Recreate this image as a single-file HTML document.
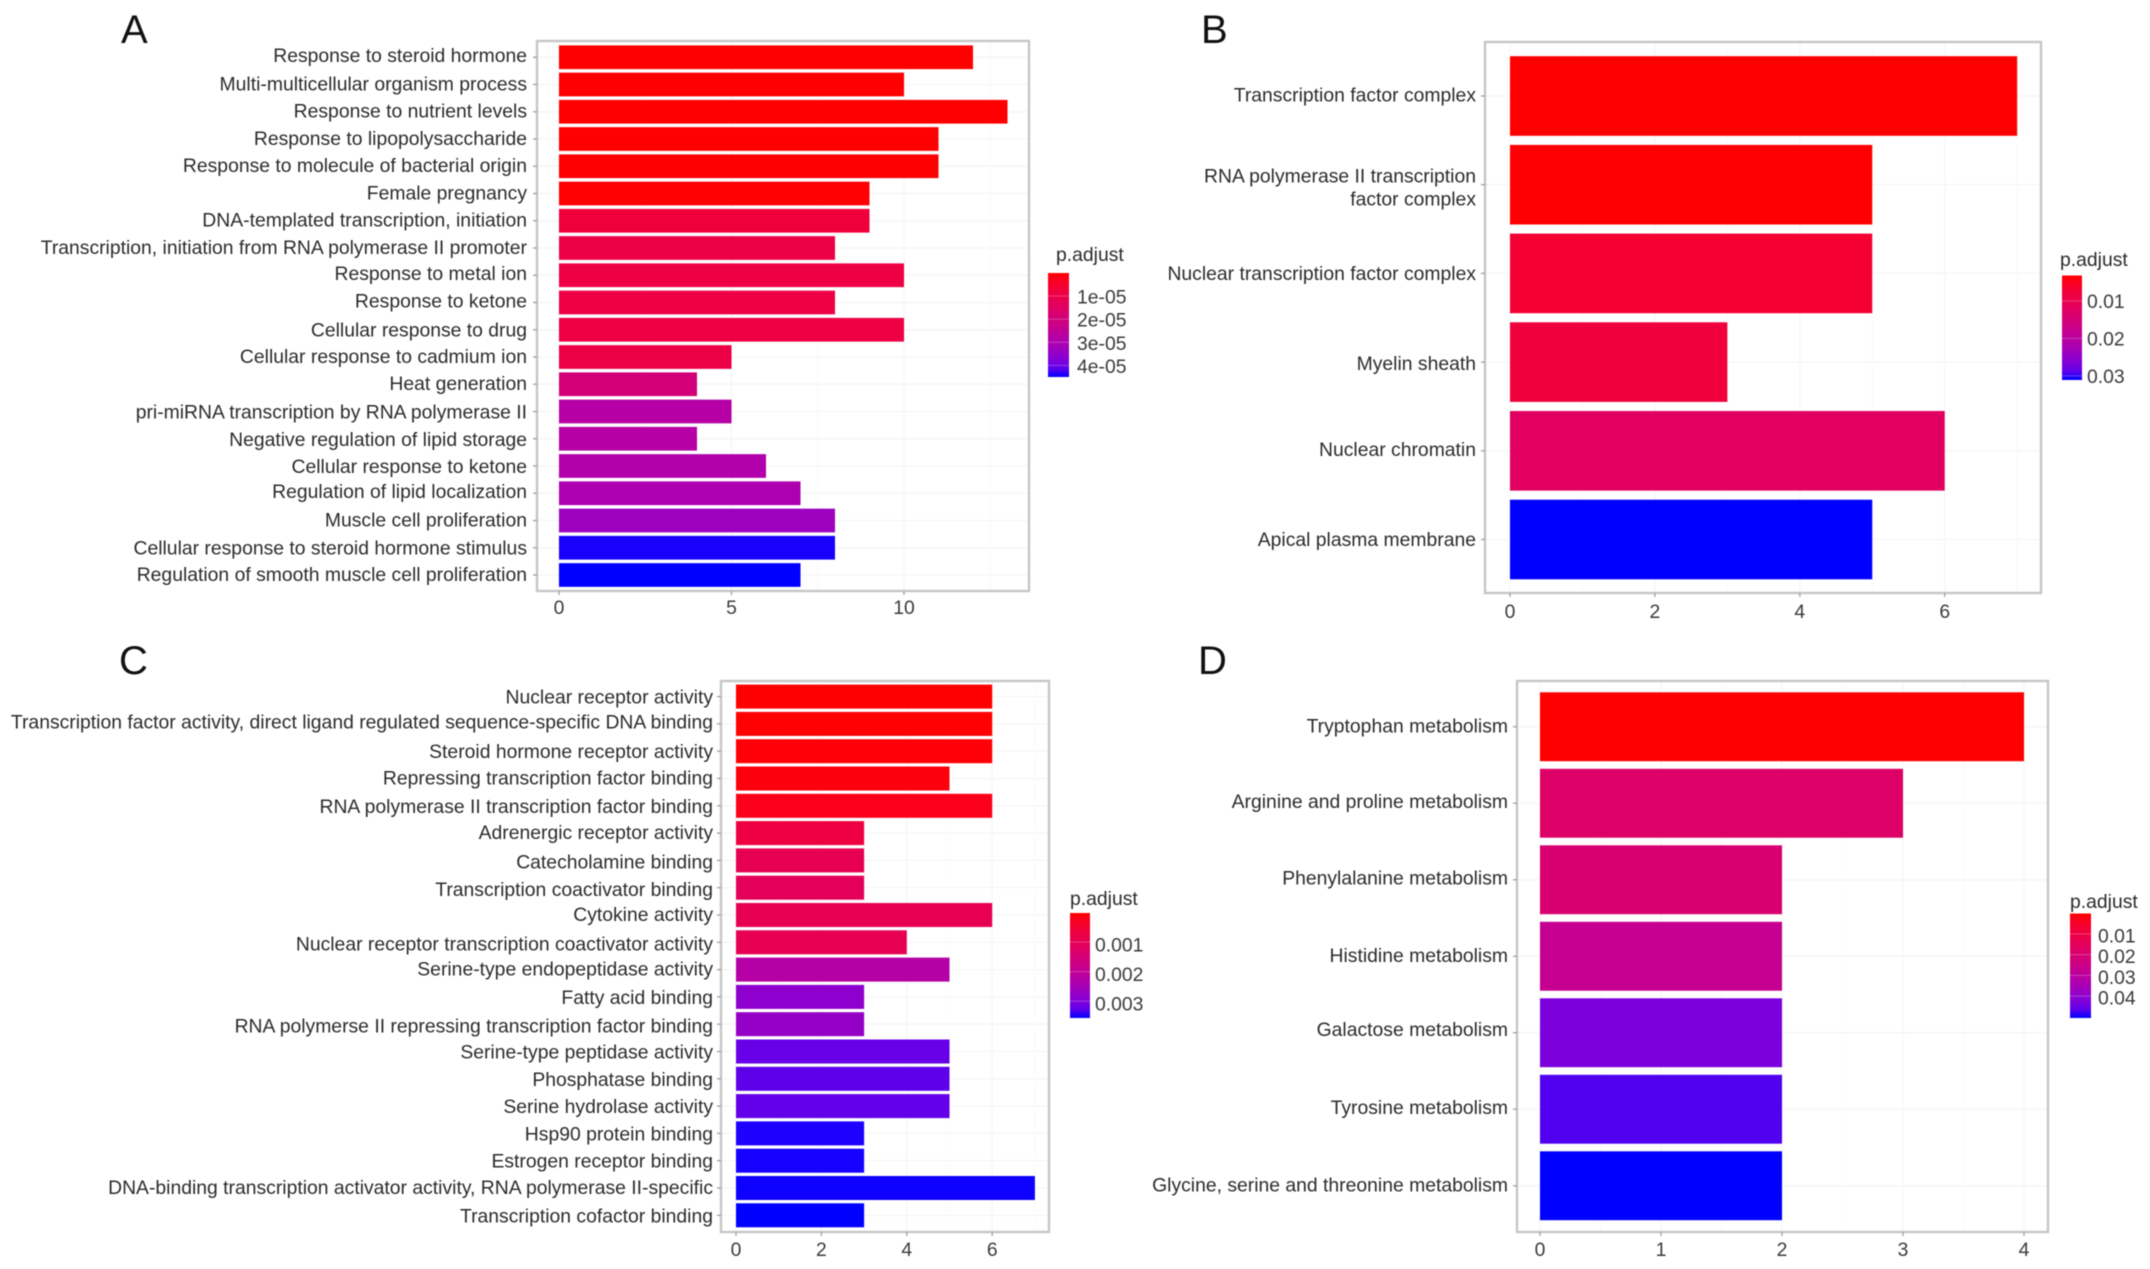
<!DOCTYPE html>
<html lang="en">
<head>
<meta charset="utf-8">
<title>Enrichment bar charts</title>
<style>
html,body{margin:0;padding:0;background:#fff;width:2150px;height:1269px;overflow:hidden}
svg{display:block;filter:blur(0.55px)}
text{font-family:"Liberation Sans",Arial,sans-serif}
</style>
</head>
<body>
<svg id="figure" width="2150" height="1269" viewBox="0 0 2150 1269" xmlns="http://www.w3.org/2000/svg">
<defs id="gradients"></defs>
</svg>
<script>
var aTerms = ["Response to steroid hormone","Multi-multicellular organism process","Response to nutrient levels","Response to lipopolysaccharide","Response to molecule of bacterial origin","Female pregnancy","DNA-templated transcription, initiation","Transcription, initiation from RNA polymerase II promoter","Response to metal ion","Response to ketone","Cellular response to drug","Cellular response to cadmium ion","Heat generation","pri-miRNA transcription by RNA polymerase II","Negative regulation of lipid storage","Cellular response to ketone","Regulation of lipid localization","Muscle cell proliferation","Cellular response to steroid hormone stimulus","Regulation of smooth muscle cell proliferation"];
var aCounts = [12,10,13,11,11,9,9,8,10,8,10,5,4,5,4,6,7,8,8,7];
var aPadjust = [0.00000005,0.0000001,0.0000001,0.00000015,0.0000002,0.0000003,0.0000075,0.0000095,0.0000090,0.0000090,0.0000090,0.0000095,0.0000195,0.0000280,0.0000280,0.0000290,0.0000300,0.0000330,0.0000447,0.0000450];
var aTicks = [0,5,10];
var aLegendTicks = [0.00001,0.00002,0.00003,0.00004];
var aLegendLabels = ["1e-05","2e-05","3e-05","4e-05"];

var bTerms = [["Transcription factor complex"],["RNA polymerase II transcription","factor complex"],["Nuclear transcription factor complex"],["Myelin sheath"],["Nuclear chromatin"],["Apical plasma membrane"]];
var bCounts = [7,5,5,3,6,5];
var bPadjust = [0.0032,0.0034,0.0068,0.0080,0.0120,0.0311];
var bTicks = [0,2,4,6];
var bLegendTicks = [0.01,0.02,0.03];
var bLegendLabels = ["0.01","0.02","0.03"];

var cTerms = ["Nuclear receptor activity","Transcription factor activity, direct ligand regulated sequence-specific DNA binding","Steroid hormone receptor activity","Repressing transcription factor binding","RNA polymerase II transcription factor binding","Adrenergic receptor activity","Catecholamine binding","Transcription coactivator binding","Cytokine activity","Nuclear receptor transcription coactivator activity","Serine-type endopeptidase activity","Fatty acid binding","RNA polymerse II repressing transcription factor binding","Serine-type peptidase activity","Phosphatase binding","Serine hydrolase activity","Hsp90 protein binding","Estrogen receptor binding","DNA-binding transcription activator activity, RNA polymerase II-specific","Transcription cofactor binding"];
var cCounts = [6,6,6,5,6,3,3,3,6,4,5,3,3,5,5,5,3,3,7,3];
var cPadjust = [0.00002,0.00004,0.00006,0.00010,0.00020,0.00070,0.00095,0.00105,0.00095,0.00095,0.00225,0.00285,0.00275,0.00322,0.00328,0.00325,0.00354,0.00355,0.00356,0.00357];
var cTicks = [0,2,4,6];
var cLegendTicks = [0.001,0.002,0.003];
var cLegendLabels = ["0.001","0.002","0.003"];

var dTerms = ["Tryptophan metabolism","Arginine and proline metabolism","Phenylalanine metabolism","Histidine metabolism","Galactose metabolism","Tyrosine metabolism","Glycine, serine and threonine metabolism"];
var dCounts = [4,3,2,2,2,2,2];
var dPadjust = [0.0002,0.0180,0.0200,0.0270,0.0430,0.0475,0.0505];
var dTicks = [0,1,2,3,4];
var dLegendTicks = [0.01,0.02,0.03,0.04];
var dLegendLabels = ["0.01","0.02","0.03","0.04"];

var svgNS = "http://www.w3.org/2000/svg";
var figure = document.getElementById("figure");
var defs = document.getElementById("gradients");

function make(tag, attrs, parent) {
  var el = document.createElementNS(svgNS, tag);
  for (var k in attrs) el.setAttribute(k, attrs[k]);
  (parent || figure).appendChild(el);
  return el;
}
function srgbToLab(c) {
  var l = c.map(function (v) { v /= 255; return v > 0.04045 ? Math.pow((v + 0.055) / 1.055, 2.4) : v / 12.92; });
  var x = (0.4124564 * l[0] + 0.3575761 * l[1] + 0.1804375 * l[2]) / 0.95047;
  var y = 0.2126729 * l[0] + 0.7151522 * l[1] + 0.0721750 * l[2];
  var z = (0.0193339 * l[0] + 0.1191920 * l[1] + 0.9503041 * l[2]) / 1.08883;
  var f = function (t) { return t > 0.008856 ? Math.cbrt(t) : 7.787 * t + 16 / 116; };
  return [116 * f(y) - 16, 500 * (f(x) - f(y)), 200 * (f(y) - f(z))];
}
function labToCss(lab) {
  var fy = (lab[0] + 16) / 116, fx = fy + lab[1] / 500, fz = fy - lab[2] / 200;
  var g = function (t) { return t * t * t > 0.008856 ? t * t * t : (t - 16 / 116) / 7.787; };
  var x = g(fx) * 0.95047, y = g(fy), z = g(fz) * 1.08883;
  var rgb = [3.2404542 * x - 1.5371385 * y - 0.4985314 * z, -0.9692660 * x + 1.8760108 * y + 0.0415560 * z, 0.0556434 * x - 0.2040259 * y + 1.0572252 * z];
  var out = rgb.map(function (v) {
    v = Math.max(0, Math.min(1, v));
    v = v > 0.0031308 ? 1.055 * Math.pow(v, 1 / 2.4) - 0.055 : 12.92 * v;
    return Math.round(v * 255);
  });
  return "rgb(" + out.join(",") + ")";
}
var labRed = srgbToLab([255, 0, 0]);
var labBlue = srgbToLab([0, 0, 255]);
function gradientColor(t) {
  t = Math.max(0, Math.min(1, t));
  return labToCss([0, 1, 2].map(function (i) { return labRed[i] + (labBlue[i] - labRed[i]) * t; }));
}

function drawPanel(key, layout, terms, counts, padjust, ticks, legendTicks, legendLabels) {
  var group = make("g", {});
  
  

  var xScale = function (v) { return layout.x0 + (v - layout.xMin) * layout.unit; };
  var bandCenter = function (i) { return layout.barTop + layout.barH / 2 + i * layout.pitch; };
  var maxP = Math.max.apply(null, padjust);
  var minP = Math.min.apply(null, padjust);
  var fillScale = function (p) { return (p - minP) / (maxP - minP); };
  var legendScale = function (p) { return layout.legY + fillScale(p) * layout.legH; };

  var letter = make("text", { x: layout.letterX, y: layout.letterY, "font-size": 40, fill: "#111" }, group);
  letter.textContent = layout.letter;
  
  

  var bg = make("rect", { x: layout.px, y: layout.py, width: layout.pw, height: layout.ph, fill: "#fff" }, group);
  
  

  terms.forEach(function (term, i) {
    var h = make("line", { x1: layout.px, x2: layout.px + layout.pw, y1: bandCenter(i), y2: bandCenter(i), stroke: "#f5f5f5", "stroke-width": 1.2 }, group);
    
    
  });
  var step = ticks[1] - ticks[0];
  var gridValue = ticks[0];
  var limit = (layout.px + layout.pw - layout.x0) / layout.unit;
  while (gridValue <= limit) {
    var major = make("line", { x1: xScale(gridValue), x2: xScale(gridValue), y1: layout.py, y2: layout.py + layout.ph, stroke: "#f5f5f5", "stroke-width": 1.2 }, group);
    
    
    var mv = gridValue + step / 2;
    if (mv <= limit) {
      var minor = make("line", { x1: xScale(mv), x2: xScale(mv), y1: layout.py, y2: layout.py + layout.ph, stroke: "#fafafa", "stroke-width": 1 }, group);
      
      
    }
    gridValue += step;
  }

  counts.forEach(function (count, i) {
    var bar = make("rect", { x: xScale(0), y: bandCenter(i) - layout.barH / 2, width: xScale(count) - xScale(0), height: layout.barH, fill: gradientColor(fillScale(padjust[i])) }, group);
    
    
  });

  var frame = make("rect", { x: layout.px, y: layout.py, width: layout.pw, height: layout.ph, fill: "none", stroke: "#c6c6c6", "stroke-width": 2.4 }, group);
  
  

  terms.forEach(function (term, i) {
    var lines = Array.isArray(term) ? term : [term];
    var y = bandCenter(i);
    var tick = make("line", { x1: layout.px - 4, x2: layout.px, y1: y, y2: y, stroke: "#999", "stroke-width": 1.2 }, group);
    
    
    var nudge = (layout.labelNudge && layout.labelNudge[i]) || 0;
    lines.forEach(function (line, j) {
      var ly = y + layout.labelShift + nudge + (j - (lines.length - 1) / 2) * 23 + (lines.length > 1 ? 3 : 0);
      var label = make("text", { x: layout.labelX, y: ly, dy: "0.36em", "text-anchor": "end", "font-size": layout.font, fill: "#2b2b2b" }, group);
      label.textContent = line;
      
      
    });
  });

  ticks.forEach(function (t) {
    var tick = make("line", { x1: xScale(t), x2: xScale(t), y1: layout.py + layout.ph, y2: layout.py + layout.ph + 4, stroke: "#999", "stroke-width": 1.2 }, group);
    
    
    var label = make("text", { x: xScale(t), y: layout.tickY, dy: "0.36em", "text-anchor": "middle", "font-size": layout.font, fill: "#3a3a3a" }, group);
    label.textContent = t;
    
    
  });

  var gradId = "legend-gradient-" + key;
  var grad = make("linearGradient", { id: gradId, x1: 0, y1: 0, x2: 0, y2: 1 }, defs);
  for (var s = 0; s <= 12; s++) {
    make("stop", { offset: s / 12, "stop-color": gradientColor(s / 12) }, grad);
  }
  var legendTitle = make("text", { x: layout.legTitleX, y: layout.legTitleY, dy: "0.36em", "font-size": layout.font, fill: "#2b2b2b" }, group);
  legendTitle.textContent = "p.adjust";
  
  
  var bar = make("rect", { x: layout.legX, y: layout.legY, width: layout.legW, height: layout.legH, fill: "url(#" + gradId + ")" }, group);
  
  
  legendTicks.forEach(function (p, i) {
    var y = legendScale(p);
    var mark = make("line", { x1: layout.legX, x2: layout.legX + layout.legW, y1: y, y2: y, stroke: "rgba(255,255,255,0.25)", "stroke-width": 1 }, group);
    
    
    var label = make("text", { x: layout.legLabelX, y: y + layout.legLabelShift, dy: "0.36em", "font-size": layout.font, fill: "#3a3a3a" }, group);
    label.textContent = legendLabels[i];
    
    
  });
}

drawPanel("a", { letter: "A", letterX: 121, letterY: 43, px: 537, py: 41, pw: 492, ph: 550, x0: 559, xMin: 0, unit: 34.5, barTop: 45.4, pitch: 27.25, barH: 23.7, labelX: 527, labelShift: -1, labelNudge: [-1.4,0,0,0,0,0,0,0,-1.2,-1.2,1,0,0,1.2,1.2,1.2,-1,0,1,0], tickY: 607, font: 19.35, legX: 1048, legY: 273, legW: 21, legH: 104, legTitleX: 1056, legTitleY: 254, legLabelX: 1077, legLabelShift: 0.5 }, aTerms, aCounts, aPadjust, aTicks, aLegendTicks, aLegendLabels);
drawPanel("b", { letter: "B", letterX: 1201, letterY: 43, px: 1485, py: 42, pw: 556, ph: 551, x0: 1510, xMin: 0, unit: 72.45, barTop: 56.2, pitch: 88.7, barH: 79.6, labelX: 1476, labelShift: -0.5, labelNudge: [-1,0,0,1.3,-1.3,0], tickY: 611, font: 19.35, legX: 2062, legY: 275.5, legW: 20, legH: 104.5, legTitleX: 2060, legTitleY: 259, legLabelX: 2087, legLabelShift: 0 }, bTerms, bCounts, bPadjust, bTicks, bLegendTicks, bLegendLabels);
drawPanel("c", { letter: "C", letterX: 119, letterY: 674, px: 721, py: 681, pw: 328, ph: 551, x0: 736, xMin: 0, unit: 42.7, barTop: 684.6, pitch: 27.3, barH: 24, labelX: 713, labelShift: 0, labelNudge: [0,-2.5,0,-1,0,-1,1.3,1.3,-1,1.3,-1,0,1.3,0,0,0,0,0,-1,0], tickY: 1249, font: 19.35, legX: 1070, legY: 913, legW: 20, legH: 105, legTitleX: 1070, legTitleY: 898, legLabelX: 1095, legLabelShift: 2.4 }, cTerms, cCounts, cPadjust, cTicks, cLegendTicks, cLegendLabels);
drawPanel("d", { letter: "D", letterX: 1198, letterY: 674, px: 1517, py: 681, pw: 531, ph: 551, x0: 1540, xMin: 0, unit: 121, barTop: 692.3, pitch: 76.5, barH: 68.9, labelX: 1508, labelShift: -1, labelNudge: [0,-1.3,-1.3,0,-2.6,-1.3,0], tickY: 1249, font: 19.35, legX: 2070, legY: 913.5, legW: 21, legH: 104.5, legTitleX: 2070, legTitleY: 901, legLabelX: 2098, legLabelShift: 1.5 }, dTerms, dCounts, dPadjust, dTicks, dLegendTicks, dLegendLabels);
</script>
</body>
</html>
